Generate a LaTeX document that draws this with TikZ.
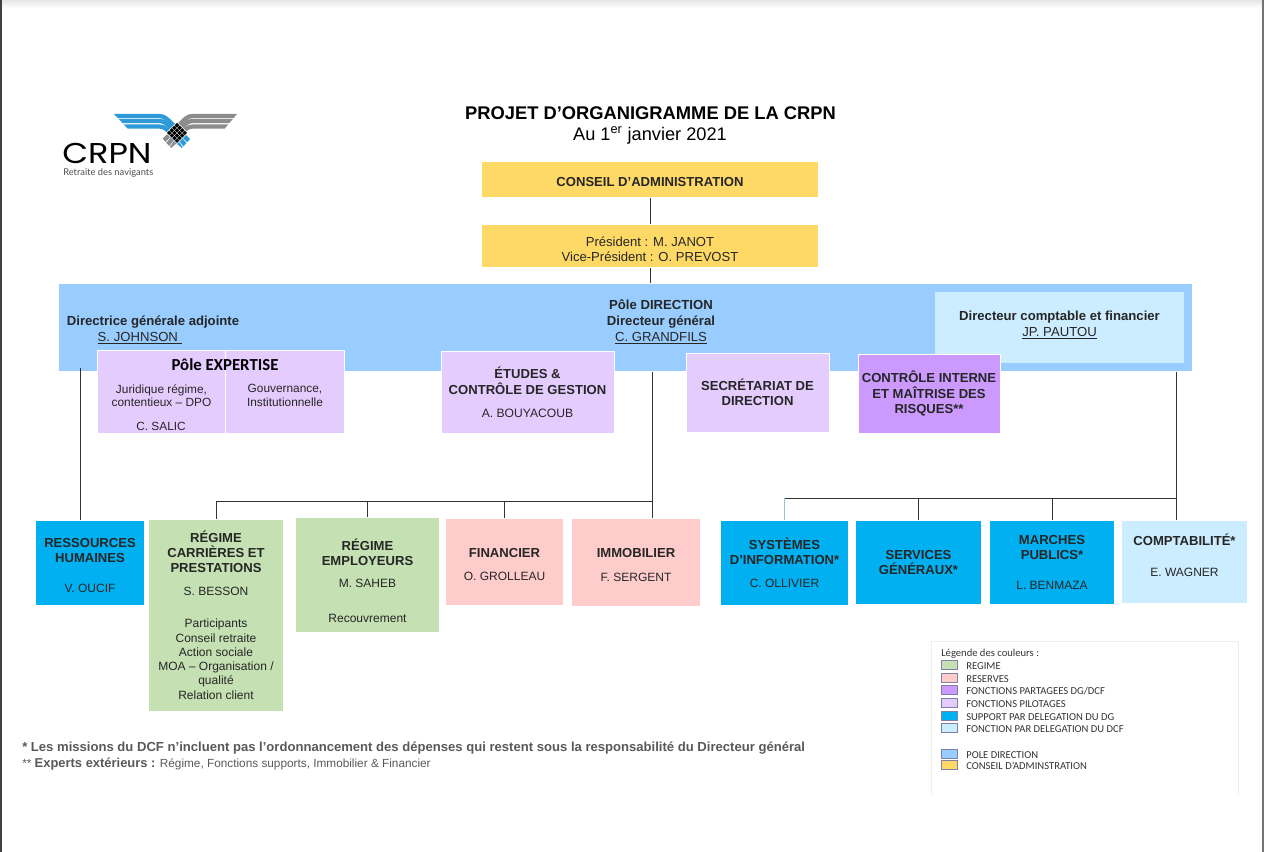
\documentclass[tikz,border=0pt]{standalone}
\usepackage{fontspec}
\usepackage{graphicx}
\usepackage{xcolor}
\setmainfont{Liberation Sans}
\newfontfamily\carlito{Carlito}
\newfontfamily\lato{Lato}
\newfontfamily\poppins{Poppins}
\usetikzlibrary{positioning, calc}
\definecolor{regimecol}{HTML}{C5E0B3}
\definecolor{reservecol}{HTML}{FFCCCC}
\definecolor{sharedcol}{HTML}{CC99FF}
\definecolor{pilotcol}{HTML}{E5CCFF}
\definecolor{supportcol}{HTML}{00B0F0}
\definecolor{dcfcol}{HTML}{CCECFF}
\definecolor{polecol}{HTML}{99CCFF}
\definecolor{boardcol}{HTML}{FFD966}
\definecolor{wingblue}{HTML}{2E9BD8}
\definecolor{winggray}{HTML}{8C8C8C}
\definecolor{legendedge}{HTML}{EAF2E6}
\newcommand{\boxhead}[1]{{\fontsize{9.8}{11.6}\selectfont\textbf{#1}}}
\newcommand{\lowertext}{\rule{0pt}{10.5pt}}
\begin{document}
\begin{tikzpicture}[
  x=0.75pt, y=-0.75pt,
  every node/.style={font=\fontsize{9}{11.4}\selectfont, align=center, inner sep=0pt, text=black!85},
  orgbox/.style 2 args={draw=white, line width=0.25pt, minimum width=#1*0.75pt, minimum height=#2*0.75pt},
  bandtext/.style={font=\fontsize{9.85}{12}\selectfont},
  smalltext/.style={font=\fontsize{8.9}{10}\selectfont},
  linkline/.style={draw=black!80, line width=0.75pt},
  wingline/.style={line width=3.2pt},
  legendtext/.style={anchor=west, font=\carlito\fontsize{7.95}{9}\selectfont, text=black!80}
]
\useasboundingbox (0,0) rectangle (1264,852);

% Page edges
\fill[top color=black!10, bottom color=white] (0,0) rectangle (1264,8);
\fill[black!75] (0,0) rectangle (2,852);
\fill[black!55] (1262,0) rectangle (1264,852);

% Logo
\begin{scope}
  \clip (237,114) -- (224,129.5) -- (193,129.5) -- (171,148) -- (162,138) -- (175,110) -- cycle;
  \foreach \ypos/\xend in {116/162.5, 121/165.5, 126.5/168.5}
    \draw[wingline, winggray] (250,\ypos) -- (198,\ypos) .. controls (189,\ypos) .. (184,\ypos+4) -- (\xend,\ypos+26);
\end{scope}
\begin{scope}
  \clip (114,114) -- (128.5,129.5) -- (159,129.5) -- (182,148) -- (191,138) -- (178,110) -- cycle;
  \foreach \ypos/\xend in {116/190, 121/187, 126.5/184}
    \draw[wingline, wingblue] (100,\ypos) -- (154,\ypos) .. controls (163,\ypos) .. (168,\ypos+4) -- (\xend,\ypos+26);
\end{scope}
\fill[white] (177,122) -- (188,133) -- (177,144) -- (166,133) -- cycle;
\foreach \i in {0,1,2,3}
  \foreach \j in {0,1,2,3}
    \fill[black] ($(177,125.2)+(\i*2.6-\j*2.6,\i*2.6+\j*2.6)$) +(0,-2.2) -- +(2.2,0) -- +(0,2.2) -- +(-2.2,0) -- cycle;
\node[anchor=base west, font=\poppins\fontsize{21.5}{21.5}\selectfont, text=black] (logoname) at (62,163.5) {\scalebox{1.17}[1]{CRPN}};
\node[anchor=west, font=\lato\fontsize{7}{8}\selectfont, text=black!70] (logotag) at (63,173) {Retraite des navigants};

% Title
\node[font=\bfseries\fontsize{13.75}{15}\selectfont, text=black] (title) at (650.5,113) {PROJET D’ORGANIGRAMME DE LA CRPN};
\node[font=\fontsize{13.65}{15}\selectfont, text=black] (subtitle) at (650,135.8) {Au 1\textsuperscript{er} janvier 2021};

% Board
\node[orgbox={337}{36}, fill=boardcol] (board) at (650,179.5) {\lowertext\boxhead{CONSEIL D’ADMINISTRATION}};
\node[orgbox={337}{43}, fill=boardcol, font=\fontsize{9.8}{11.3}\selectfont] (president) at (650,246) {\rule{0pt}{11.5pt}Président : M. JANOT\\Vice-Président : O. PREVOST};

% Direction band
\node[orgbox={1134}{88}, fill=polecol] (direction) at (625.5,327.5) {};
\node[orgbox={249}{71}, fill=dcfcol, draw=none] (dcf) at (1059.5,327.5) {};
\node[bandtext] (dcftext) at (1059.5,325) {\textbf{Directeur comptable et financier}\\\underline{JP. PAUTOU}};
\node[bandtext] (dgtext) at (661,322) {\textbf{Pôle DIRECTION}\\\textbf{Directeur général}\\\underline{C. GRANDFILS}};
\node[bandtext] (dgatext) at (153,330) {\textbf{Directrice générale adjointe}\\\underline{S. JOHNSON~}\rule{20pt}{0pt}};

% Functions over the band
\node[orgbox={128}{83}, fill=pilotcol] (legal) at (161.5,391.5) {};
\node[orgbox={119}{83}, fill=pilotcol] (gov) at (285,391.5) {};
\node[font=\carlito\bfseries\fontsize{12.6}{14}\selectfont, text=black] (expertise) at (225,364.5) {Pôle EXPERTISE};
\node[smalltext] (legaltext) at (161.5,395.5) {Juridique régime,\\contentieux – DPO};
\node[smalltext] (legalname) at (161,426.5) {C. SALIC};
\node[smalltext] (govtext) at (285,395.5) {Gouvernance,\\Institutionnelle};
\node[orgbox={173}{82}, fill=pilotcol, font=\fontsize{9.1}{11.6}\selectfont] (studies) at (527.5,392.5) {\boxhead{ÉTUDES \&}\\\boxhead{CONTRÔLE DE GESTION}\\[6pt]A. BOUYACOUB};
\node[orgbox={143}{79}, fill=pilotcol] (secretary) at (757.5,392.5) {\boxhead{SECRÉTARIAT DE}\\\boxhead{DIRECTION}};
\node[orgbox={142}{79}, fill=sharedcol] (control) at (929,393.5) {\boxhead{CONTRÔLE INTERNE}\\\boxhead{ET MAÎTRISE DES}\\\boxhead{RISQUES**}};

% Bottom row
\node[orgbox={109}{85}, fill=supportcol] (rh) at (90,563) {\lowertext\boxhead{RESSOURCES}\\\boxhead{HUMAINES}\\[11pt]V. OUCIF};
\node[orgbox={135}{192}, fill=regimecol] (career) at (216,615) {\boxhead{RÉGIME}\\\boxhead{CARRIÈRES ET}\\\boxhead{PRESTATIONS}\\[6pt]S. BESSON\\[12.5pt]Participants\\[-0.7pt]Conseil retraite\\[-0.7pt]Action sociale\\[-0.7pt]MOA – Organisation /\\[-0.7pt]qualité\\[-0.7pt]Relation client};
\node[orgbox={144}{115}, fill=regimecol] (employer) at (367.5,575) {};
\node (employertext) at (367.5,580.5) {\boxhead{RÉGIME}\\\boxhead{EMPLOYEURS}\\[5pt]M. SAHEB\\[15pt]Recouvrement};
\node[orgbox={118}{87}, fill=reservecol] (finance) at (504.5,562) {\lowertext\boxhead{FINANCIER}\\[6pt]O. GROLLEAU};
\node[orgbox={129}{88}, fill=reservecol] (estate) at (636,562.5) {\lowertext\boxhead{IMMOBILIER}\\[6pt]F. SERGENT};
\node[orgbox={128}{85}, fill=supportcol] (systems) at (784.5,563) {\boxhead{SYSTÈMES}\\\boxhead{D’INFORMATION*}\\[6pt]C. OLLIVIER};
\node[orgbox={126}{84}, fill=supportcol] (services) at (918.5,562.5) {\boxhead{SERVICES}\\\boxhead{GÉNÉRAUX*}};
\node[orgbox={125}{84}, fill=supportcol] (markets) at (1052,562.5) {\boxhead{MARCHES}\\\boxhead{PUBLICS*}\\[11pt]L. BENMAZA};
\node[orgbox={126}{83}, fill=dcfcol] (accounts) at (1184.5,562) {};
\node (accountstext) at (1184.5,555) {\boxhead{COMPTABILITÉ*}\\[12pt]E. WAGNER};

% Connectors
\coordinate (busdg) at (652,501);
\coordinate (busdcf) at (1176,498);
\coordinate (rhtop) at (80,368);
\draw[linkline] (board) -- (president);
\draw[linkline] (president) -- (president.south |- direction.north);
\draw[linkline] (rhtop) -- (rhtop |- rh.north);
\draw[linkline] (direction.south -| busdg) -- (busdg |- estate.north);
\draw[linkline] (busdg) -- (career.north |- busdg) -- (career.north);
\draw[linkline] (employer.north |- busdg) -- (employer.north);
\draw[linkline] (finance.north |- busdg) -- (finance.north);
\draw[linkline] (direction.south -| busdcf) -- (busdcf |- accounts.north);
\draw[linkline] (busdcf) -- (systems.north |- busdcf);
\draw[supportcol!60!black!40, line width=0.75pt] (systems.north |- busdcf) -- (systems.north);
\draw[linkline] (services.north |- busdcf) -- (services.north);
\draw[linkline] (markets.north |- busdcf) -- (markets.north);

% Footnotes
\node[anchor=west, font=\bfseries\fontsize{9.81}{11}\selectfont, text=black!65] (note1) at (22,748) {* Les missions du DCF n’incluent pas l’ordonnancement des dépenses qui restent sous la responsabilité du Directeur général};
\node[anchor=west, font=\fontsize{8.85}{11}\selectfont, text=black!65] (note2) at (22,764) {** {\fontsize{9.7}{11}\selectfont\textbf{Experts extérieurs :}} Régime, Fonctions supports, Immobilier \& Financier};

% Legend
\draw[legendedge, line width=0.75pt] (931,795) -- (931,641) -- (1238,641) -- (1238,795);
\node[legendtext] (legendtitle) at (941,653.8) {Légende des couleurs :};
\foreach \ypos/\swatch/\entry in {665/regimecol/REGIME, 678/reservecol/RESERVES, 690/sharedcol/FONCTIONS PARTAGEES DG\slash DCF, 703/pilotcol/FONCTIONS PILOTAGES, 716/supportcol/SUPPORT PAR DELEGATION DU DG, 728/dcfcol/FONCTION PAR DELEGATION DU DCF, 754/polecol/POLE DIRECTION, 765/boardcol/CONSEIL D’ADMINSTRATION} {
  \fill[\swatch, draw=blue!30!black!50, line width=0.5pt] (941,\ypos-4.8) rectangle (957,\ypos+4.8);
  \node[legendtext] at (966,\ypos+0.7) {\entry};
}
\end{tikzpicture}
\end{document}
